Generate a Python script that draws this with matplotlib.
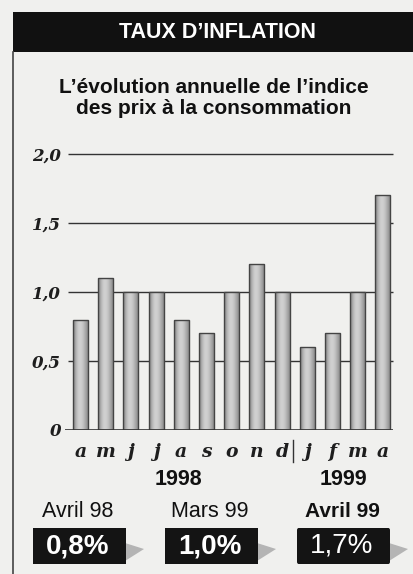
import matplotlib
matplotlib.use("Agg")
import matplotlib.pyplot as plt
import numpy as np
from matplotlib.patches import Rectangle, Polygon, FancyBboxPatch

# data
months = ["a", "m", "j", "j", "a", "s", "o", "n", "d", "j", "f", "m", "a"]
values = [0.8, 1.1, 1.0, 1.0, 0.8, 0.7, 1.0, 1.2, 1.0, 0.6, 0.7, 1.0, 1.7]
yticks = [0, 0.5, 1.0, 1.5, 2.0]
ytick_labels = ["0", "0,5", "1,0", "1,5", "2,0"]
years = ["1998", "1999"]
year_pos = [3.9, 10.45]
box_titles = ["Avril 98", "Mars 99", "Avril 99"]
box_values = ["0,8%", "1,0%", "1,7%"]

W, H = 413, 574
BG = "#f0f0ee"
SANS = "Liberation Sans"


def fx(x):
    return x / W


def fy(y):
    return 1 - y / H


fig = plt.figure(figsize=(W / 100, H / 100), dpi=100)
fig.patch.set_facecolor(BG)

# header bar + left rule
fig.patches.append(Rectangle((fx(13), fy(52)), 1 - fx(13), (52 - 12) / H,
                             transform=fig.transFigure, facecolor="#111111",
                             edgecolor="none"))
fig.add_artist(plt.Line2D([fx(13), fx(13)], [fy(52), 0], transform=fig.transFigure,
                          color="#444444", lw=1.2))
fig.text(fx(218), fy(33), "TAUX D\u2019INFLATION", color="white", fontsize=15.5,
         fontweight="bold", family=SANS, ha="center", va="center")
fig.text(fx(214), fy(98), "L\u2019évolution annuelle de l\u2019indice\ndes prix à la consommation",
         color="#111111", fontsize=15, fontweight="bold", family=SANS,
         ha="center", va="center", linespacing=1.1)

# chart
ax = fig.add_axes([fx(64), fy(430), (400 - 64) / W, (430 - 150) / H])
ax.set_facecolor("none")
ax.set_xlim(-0.655, 12.68)
ax.set_ylim(0, 2.029)
for s in ax.spines.values():
    s.set_visible(False)
ax.set_xticks([])
ax.set_yticks(yticks)
ax.set_yticklabels(ytick_labels, family="DejaVu Serif", fontweight="bold",
                   style="italic", fontsize=12, color="#1e1e1e")
ax.tick_params(axis="y", length=0, pad=2)

x = np.arange(len(values))
ax.hlines([t for t in yticks if t > 0], -0.496, 12.40, color="#333333", lw=1.0, zorder=1)
ax.hlines(0, -0.615, 12.40, color="#333333", lw=1.2, zorder=4)

bars = ax.bar(x, values, width=0.6, color="#b8b8b8", edgecolor="#444444",
              linewidth=1.0, zorder=3)
grad = np.array([[0.55, 0.72, 0.82, 0.82, 0.76, 0.66, 0.55]])
for b in bars:
    bx, by = b.get_x(), b.get_y()
    im = ax.imshow(grad, cmap="gray", vmin=0, vmax=1, aspect="auto",
                   extent=(bx, bx + b.get_width(), by, by + b.get_height()),
                   zorder=3.5, interpolation="bicubic")
    im.set_clip_path(b)
    b.set_facecolor("none")
    b.set_zorder(3.6)

for i, m in enumerate(months):
    ax.text(i, -0.0964, m, transform=ax.get_xaxis_transform(), ha="center",
            va="baseline", family="DejaVu Serif", fontweight="bold",
            style="italic", fontsize=13.5, color="#1e1e1e")
ax.plot([8.45, 8.45], [-0.035, -0.115], transform=ax.get_xaxis_transform(),
        color="#333333", lw=1.0, clip_on=False)
for yr, p in zip(years, year_pos):
    ax.text(p, -0.196, yr, transform=ax.get_xaxis_transform(), ha="center",
            va="baseline", family=SANS, fontweight="bold", fontsize=15.5,
            color="#111111")

# bottom boxes
centers = [78, 210, 342]
for k, (t, v, cx) in enumerate(zip(box_titles, box_values, centers)):
    fig.text(fx(cx), fy(517), t, ha="center", va="baseline", family=SANS,
             fontsize=15.5 if k < 2 else 15, fontweight="bold" if k == 2 else "normal",
             color="#111111")
    left, right = cx - 45, cx + 48
    shadow = Polygon([(fx(right - 1), fy(543)), (fx(right + 18), fy(549)),
                      (fx(right - 1), fy(561))], closed=True,
                     transform=fig.transFigure, facecolor="#b4b4b4", edgecolor="none")
    fig.patches.append(shadow)
    box = FancyBboxPatch((fx(left), fy(564)), (right - left) / W, (564 - 528) / H,
                         boxstyle="round,pad=0,rounding_size=0.004" if k == 2 else "square,pad=0",
                         transform=fig.transFigure, facecolor="#141414", edgecolor="none")
    fig.patches.append(box)
    fig.text(fx(cx), fy(546), v, ha="center", va="center", color="white",
             family=SANS, fontsize=20,
             fontweight="bold" if k < 2 else "normal")

fig.savefig("out.png", dpi=100, facecolor=fig.get_facecolor())
